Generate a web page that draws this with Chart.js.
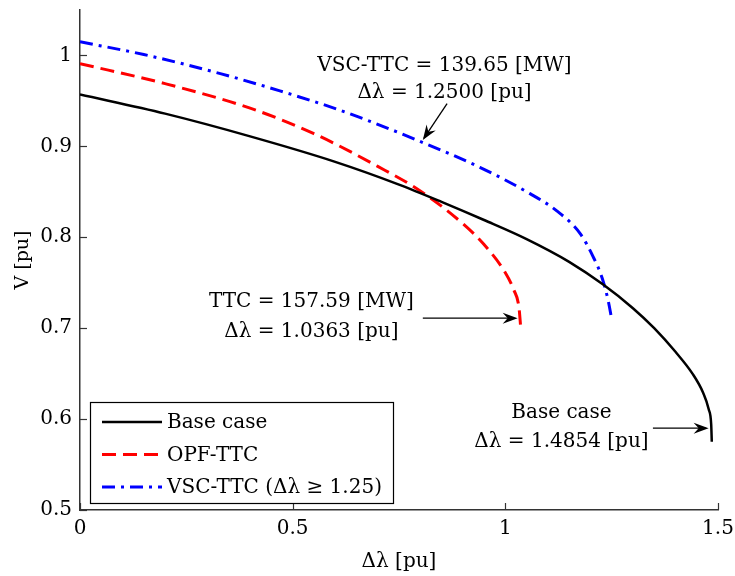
<!DOCTYPE html>
<html>
<head>
<meta charset="utf-8">
<script src="https://cdn.jsdelivr.net/npm/chart.js@4.4.1/dist/chart.umd.min.js"></script>
<style>
  html, body { margin: 0; padding: 0; background: #fff; }
</style>
</head>
<body>
<canvas id="pv-canvas" width="735" height="576"></canvas>
<script>
// ========== Data
let baseX = [0, 0.2, 0.4, 0.6, 0.75, 0.85, 0.95, 1.05, 1.15, 1.23, 1.3, 1.35, 1.4, 1.44, 1.465, 1.478, 1.484, 1.4854];
let baseV = [0.957, 0.936, 0.911, 0.883, 0.858, 0.839, 0.819, 0.798, 0.773, 0.748, 0.722, 0.700, 0.674, 0.650, 0.629, 0.611, 0.594, 0.575];

let opfX = [0, 0.2, 0.4, 0.55, 0.7, 0.8, 0.9, 0.95, 1.0, 1.02, 1.032, 1.0363];
let opfV = [0.991, 0.969, 0.942, 0.914, 0.878, 0.851, 0.815, 0.792, 0.761, 0.742, 0.723, 0.700];

let vscX = [0, 0.15, 0.33, 0.47, 0.61, 0.745, 0.807, 0.94, 1.058, 1.121, 1.176, 1.206, 1.227, 1.242, 1.25];
let vscV = [1.015, 1.001, 0.980, 0.961, 0.940, 0.916, 0.904, 0.877, 0.848, 0.829, 0.804, 0.779, 0.756, 0.730, 0.710];

let xTicks = [0, 0.5, 1, 1.5];
let yTicks = [0.5, 0.6, 0.7, 0.8, 0.9, 1];

// ========== Styles
let fontFamily = "'DejaVu Serif', 'Liberation Serif', serif";
let fontSize = 20;
let axisColor = '#333333';
let baseColor = '#000000';
let opfColor = '#FF0000';
let vscColor = '#0000FF';

function toPoints(xs, ys) {
    return xs.map((x, i) => ({ x: x, y: ys[i] }));
}

// text + arrow annotations, in data units
let notes = [
    { lines: ['VSC-TTC = 139.65 [MW]', 'Δλ = 1.2500 [pu]'], x: 0.857, ys: [0.989, 0.959], from: [0.863, 0.947], to: [0.806, 0.907] },
    { lines: ['TTC = 157.59 [MW]', 'Δλ = 1.0363 [pu]'], x: 0.544, ys: [0.729, 0.696], from: [0.806, 0.711], to: [1.029, 0.711] },
    { lines: ['Base case', 'Δλ = 1.4854 [pu]'], x: 1.132, ys: [0.607, 0.575], from: [1.347, 0.590], to: [1.478, 0.590] }
];

function drawArrowHead(ctx, x1, y1, x2, y2) {
    let a = Math.atan2(y2 - y1, x2 - x1);
    let len = 15, half = 5.5, notch = 10;
    ctx.save();
    ctx.translate(x2, y2);
    ctx.rotate(a);
    ctx.beginPath();
    ctx.moveTo(0, 0);
    ctx.lineTo(-len, -half);
    ctx.lineTo(-notch, 0);
    ctx.lineTo(-len, half);
    ctx.closePath();
    ctx.fill();
    ctx.restore();
}

// chart area is fixed by layout padding only
function noAutoPadding(axis) {
    axis.paddingLeft = 0;
    axis.paddingRight = 0;
    axis.paddingTop = 0;
    axis.paddingBottom = 0;
}

// inward tick marks (MATLAB style)
let innerTicks = {
    id: 'innerTicks',
    afterDatasetsDraw(chart) {
        let ctx = chart.ctx;
        let xs = chart.scales.x, ys = chart.scales.y;
        let ca = chart.chartArea;
        ctx.save();
        ctx.strokeStyle = axisColor;
        ctx.lineWidth = 1.2;
        xTicks.forEach(v => {
            let px = Math.round(xs.getPixelForValue(v)) + 0.5;
            ctx.beginPath();
            ctx.moveTo(px, ca.bottom);
            ctx.lineTo(px, ca.bottom - 7);
            ctx.stroke();
        });
        yTicks.forEach(v => {
            let py = Math.round(ys.getPixelForValue(v)) + 0.5;
            ctx.beginPath();
            ctx.moveTo(ca.left, py);
            ctx.lineTo(ca.left + 7, py);
            ctx.stroke();
        });
        ctx.restore();
    }
};

let annotations = {
    id: 'annotations',
    afterDatasetsDraw(chart) {
        let ctx = chart.ctx;
        let xs = chart.scales.x, ys = chart.scales.y;
        ctx.save();
        ctx.fillStyle = '#000';
        ctx.strokeStyle = '#000';
        ctx.font = fontSize + 'px ' + fontFamily;
        ctx.textAlign = 'center';
        ctx.textBaseline = 'middle';
        notes.forEach(n => {
            n.lines.forEach((t, i) => {
                ctx.fillText(t, xs.getPixelForValue(n.x), ys.getPixelForValue(n.ys[i]));
            });
            let x1 = xs.getPixelForValue(n.from[0]), y1 = ys.getPixelForValue(n.from[1]);
            let x2 = xs.getPixelForValue(n.to[0]), y2 = ys.getPixelForValue(n.to[1]);
            ctx.lineWidth = 1.3;
            ctx.beginPath();
            ctx.moveTo(x1, y1);
            ctx.lineTo(x2 - (x2 - x1) * 0.05, y2 - (y2 - y1) * 0.05);
            ctx.stroke();
            drawArrowHead(ctx, x1, y1, x2, y2);
        });
        ctx.restore();
    }
};

// boxed legend in lower-left corner
let boxLegend = {
    id: 'boxLegend',
    afterDraw(chart) {
        let ctx = chart.ctx;
        let ca = chart.chartArea;
        let bx = ca.left + 10, by = ca.bottom - 108, bw = 303, bh = 101;
        ctx.save();
        ctx.fillStyle = '#fff';
        ctx.fillRect(bx, by, bw, bh);
        ctx.strokeStyle = '#000';
        ctx.lineWidth = 1.2;
        ctx.strokeRect(bx + 0.5, by + 0.5, bw, bh);
        ctx.font = fontSize + 'px ' + fontFamily;
        ctx.textBaseline = 'middle';
        ctx.textAlign = 'left';
        chart.data.datasets.forEach((ds, i) => {
            let ry = by + 20 + i * 32.5;
            ctx.strokeStyle = ds.borderColor;
            ctx.lineWidth = ds.borderWidth;
            ctx.setLineDash(ds.borderDash || []);
            ctx.beginPath();
            ctx.moveTo(bx + 12, ry);
            ctx.lineTo(bx + 72, ry);
            ctx.stroke();
            ctx.setLineDash([]);
            ctx.fillStyle = '#000';
            ctx.fillText(ds.label, bx + 77, ry + 1);
        });
        ctx.restore();
    }
};

var pvCanvas = document.getElementById('pv-canvas');
var pvChart = new Chart(pvCanvas, {
    type: 'scatter',
    data: {
        datasets: [
            {
                label: 'Base case',
                data: toPoints(baseX, baseV),
                borderColor: baseColor,
                borderWidth: 2.5,
                showLine: true,
                pointRadius: 0,
                cubicInterpolationMode: 'monotone'
            },
            {
                label: 'OPF-TTC',
                data: toPoints(opfX, opfV),
                borderColor: opfColor,
                borderWidth: 3,
                borderDash: [14, 7],
                showLine: true,
                pointRadius: 0,
                cubicInterpolationMode: 'monotone'
            },
            {
                label: 'VSC-TTC (Δλ ≥ 1.25)',
                data: toPoints(vscX, vscV),
                borderColor: vscColor,
                borderWidth: 3,
                borderDash: [13, 6, 3, 6],
                showLine: true,
                pointRadius: 0,
                cubicInterpolationMode: 'monotone'
            }
        ]
    },
    options: {
        responsive: false,
        animation: false,
        layout: { padding: { left: 0, top: 10, right: 17, bottom: 0 } },
        plugins: {
            legend: { display: false },
            tooltip: { enabled: false }
        },
        scales: {
            x: {
                type: 'linear',
                min: 0,
                max: 1.5,
                afterBuildTicks: (axis) => { axis.ticks = xTicks.map(v => ({ value: v })); },
                afterFit: (axis) => { axis.height = 66; noAutoPadding(axis); },
                grid: { display: true, drawOnChartArea: false, drawTicks: false },
                border: { display: true, color: axisColor, width: 1.5 },
                ticks: {
                    padding: 7,
                    color: '#000',
                    font: { family: fontFamily, size: fontSize },
                    maxRotation: 0,
                    callback: (v) => String(v)
                },
                title: {
                    display: true,
                    text: 'Δλ [pu]',
                    color: '#000',
                    font: { family: fontFamily, size: fontSize },
                    padding: { top: 0, bottom: 2 }
                }
            },
            y: {
                type: 'linear',
                min: 0.5,
                max: 1.05,
                afterBuildTicks: (axis) => { axis.ticks = yTicks.map(v => ({ value: v })); },
                afterFit: (axis) => { axis.width = 80; noAutoPadding(axis); },
                grid: { display: true, drawOnChartArea: false, drawTicks: false },
                border: { display: true, color: axisColor, width: 1.5 },
                ticks: {
                    padding: 8,
                    color: '#000',
                    font: { family: fontFamily, size: fontSize },
                    callback: (v) => String(v)
                },
                title: {
                    display: true,
                    text: 'V [pu]',
                    color: '#000',
                    font: { family: fontFamily, size: 19 },
                    padding: { top: 12, bottom: 0 }
                }
            }
        }
    },
    plugins: [innerTicks, annotations, boxLegend]
});
</script>
</body>
</html>
